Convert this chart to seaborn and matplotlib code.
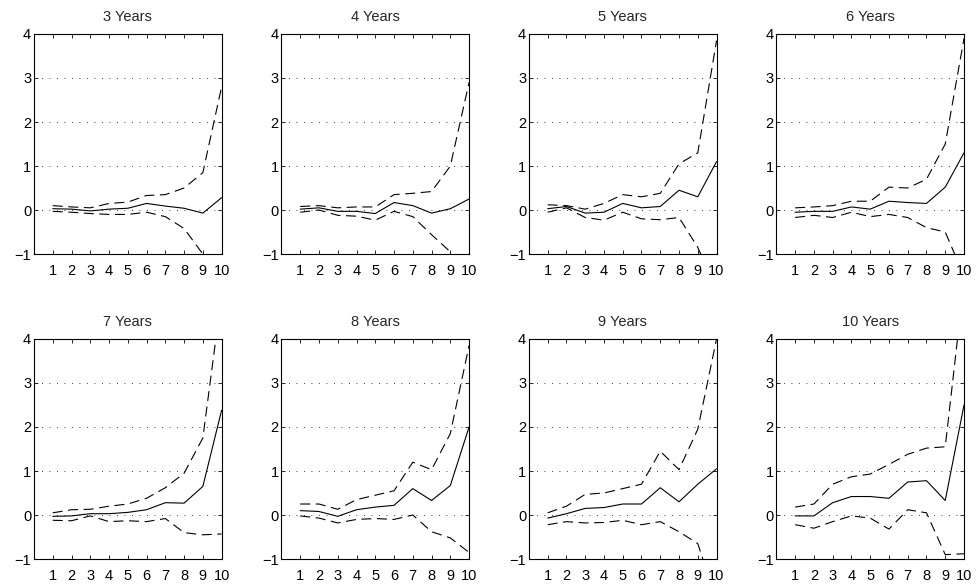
import numpy as np
import pandas as pd
import matplotlib
matplotlib.use("Agg")
import matplotlib.pyplot as plt
import seaborn as sns

# horizons (x axis) and panel titles
steps = list(range(1, 11))
maturities = [3, 4, 5, 6, 7, 8, 9, 10]

# point estimate per maturity panel
estimate = [
    [0.03, 0.02, -0.02, 0.02, 0.04, 0.15, 0.09, 0.04, -0.07, 0.28],
    [0.02, 0.05, -0.03, -0.03, -0.08, 0.17, 0.10, -0.07, 0.03, 0.25],
    [0.03, 0.08, -0.07, -0.05, 0.15, 0.05, 0.08, 0.45, 0.30, 1.10],
    [-0.05, -0.03, -0.03, 0.07, 0.02, 0.20, 0.17, 0.15, 0.52, 1.30],
    [-0.03, -0.02, 0.03, 0.03, 0.06, 0.12, 0.28, 0.27, 0.65, 2.38],
    [0.10, 0.08, -0.03, 0.12, 0.18, 0.22, 0.60, 0.33, 0.67, 2.00],
    [-0.07, 0.03, 0.15, 0.17, 0.25, 0.25, 0.62, 0.30, 0.70, 1.05],
    [-0.02, -0.02, 0.28, 0.42, 0.42, 0.38, 0.75, 0.78, 0.33, 2.50],
]

# upper band
upper = [
    [0.10, 0.07, 0.05, 0.15, 0.18, 0.33, 0.35, 0.50, 0.85, 2.80],
    [0.08, 0.10, 0.05, 0.07, 0.07, 0.35, 0.38, 0.42, 1.00, 2.90],
    [0.12, 0.10, 0.02, 0.15, 0.35, 0.30, 0.38, 1.05, 1.30, 3.85],
    [0.05, 0.07, 0.10, 0.20, 0.20, 0.52, 0.50, 0.70, 1.50, 3.90],
    [0.05, 0.12, 0.13, 0.20, 0.25, 0.38, 0.62, 0.95, 1.75, 5.00],
    [0.25, 0.25, 0.13, 0.35, 0.45, 0.55, 1.20, 1.03, 1.85, 3.85],
    [0.05, 0.20, 0.47, 0.50, 0.60, 0.70, 1.45, 1.03, 1.95, 4.00],
    [0.18, 0.25, 0.70, 0.87, 0.93, 1.15, 1.38, 1.52, 1.55, 5.30],
]

# lower band
lower = [
    [-0.03, -0.05, -0.08, -0.10, -0.10, -0.05, -0.15, -0.42, -1.00, -2.30],
    [-0.05, 0.00, -0.12, -0.14, -0.23, -0.03, -0.15, -0.56, -0.95, -2.40],
    [-0.05, 0.05, -0.17, -0.23, -0.05, -0.20, -0.22, -0.17, -0.85, -1.80],
    [-0.17, -0.12, -0.17, -0.05, -0.15, -0.10, -0.17, -0.40, -0.50, -1.50],
    [-0.12, -0.13, -0.02, -0.15, -0.13, -0.15, -0.08, -0.40, -0.45, -0.43],
    [-0.02, -0.07, -0.18, -0.10, -0.08, -0.10, 0.00, -0.38, -0.52, -0.85],
    [-0.22, -0.15, -0.18, -0.17, -0.12, -0.22, -0.15, -0.38, -0.65, -1.95],
    [-0.22, -0.30, -0.15, -0.02, -0.07, -0.32, 0.12, 0.05, -0.90, -0.88],
]

sns.set_theme(style="ticks")
plt.rcParams["font.family"] = ["Liberation Sans", "DejaVu Sans"]
plt.rcParams["xtick.direction"] = "in"
plt.rcParams["ytick.direction"] = "in"

fig, axes = plt.subplots(2, 4, figsize=(9.77, 5.85), dpi=100)
fig.subplots_adjust(left=0.0348, right=0.9867, top=0.9419, bottom=0.0444,
                    wspace=0.319, hspace=0.386)

dash = (0, (9, 5))
for i, ax in enumerate(axes.flat):
    df = pd.DataFrame({"step": steps, "est": estimate[i],
                       "up": upper[i], "lo": lower[i]})
    sns.lineplot(data=df, x="step", y="up", ax=ax, color="black",
                 lw=0.8, linestyle=dash)
    sns.lineplot(data=df, x="step", y="est", ax=ax, color="black", lw=0.8)
    sns.lineplot(data=df, x="step", y="lo", ax=ax, color="black",
                 lw=0.8, linestyle=dash)

    ax.set_xlim(0, 10)
    ax.set_ylim(-1, 4)
    ax.set_xticks(steps)
    ax.set_yticks(range(-1, 5))
    ax.set_yticklabels(["\u22121", "0", "1", "2", "3", "4"])
    ax.yaxis.grid(True, color="black", linestyle=(0, (1, 8)), lw=0.6)
    ax.set_axisbelow(True)
    ax.tick_params(axis="both", labelsize=10.5, length=3, width=0.6,
                   top=True, right=True, pad=2, colors="black")
    ax.tick_params(axis="x", pad=7.5)
    for sp in ax.spines.values():
        sp.set_color("black")
        sp.set_linewidth(0.8)
    ax.set_xlabel("")
    ax.set_ylabel("")
    ax.set_title(f"{maturities[i]} Years", fontsize=10.5, pad=9)

fig.savefig("out.png", dpi=100)
